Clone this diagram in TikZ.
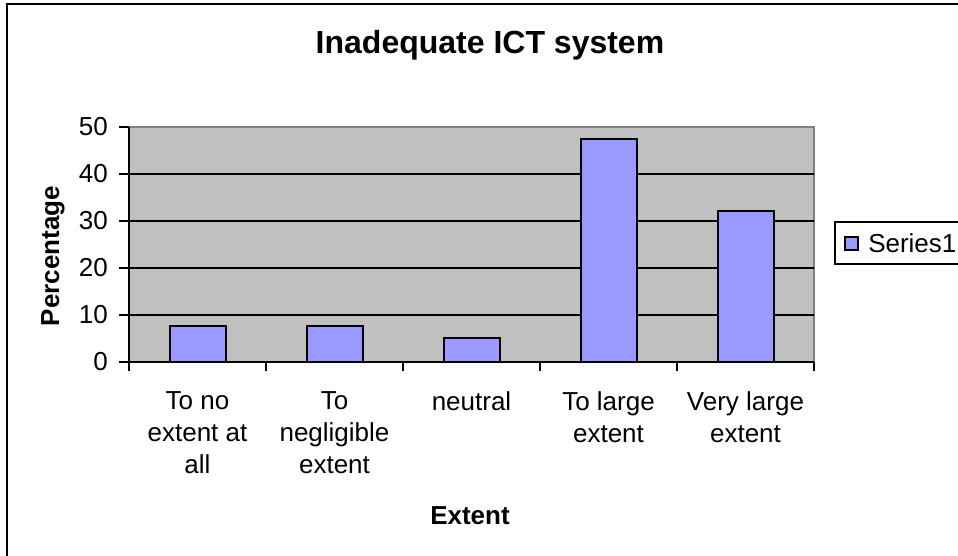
\documentclass[tikz,border=0pt]{standalone}
\usepackage{fontspec}
\setmainfont{Liberation Sans}
\usetikzlibrary{positioning}
\definecolor{barBlue}{HTML}{9999FF}
\definecolor{plotGray}{HTML}{C0C0C0}
\definecolor{edgeGray}{HTML}{808080}

\begin{document}
\begin{tikzpicture}[x=0.75pt,y=-0.75pt,
  axislab/.style={font=\fontsize{19.5}{24}\selectfont,inner sep=0pt},
  axistitle/.style={font=\fontsize{19.5}{24}\selectfont\bfseries,inner sep=0pt},
  gridline/.style={line width=1.5pt},
  bar/.style={fill=barBlue,draw=black,line width=1.5pt}]
  \clip (0,0) rectangle (958,556);
  % chart frame
  \draw[line width=1.5pt] (7,4) rectangle (990,590);
  \node[font=\fontsize{24}{28}\selectfont\bfseries,inner sep=0pt] (title) at (490,45) {Inadequate ICT system};

  % plot area
  \fill[plotGray] (129,127) rectangle (814,362);
  \draw[edgeGray,line width=1.5pt] (129,127) -- (814,127) -- (814,362);
  \foreach \v in {1,2,3,4}{
    \draw[gridline] (129,362-47*\v) -- (814,362-47*\v);
  }

  % bars
  \foreach \i/\v in {0/7.7,1/7.7,2/5.1,3/47.4,4/32.1}{
    \pgfmathsetmacro{\cx}{197.5+137*\i}
    \pgfmathsetmacro{\top}{362-4.7*\v}
    \draw[bar] (\cx-28,362) rectangle (\cx+28,\top);
  }

  % axes and ticks
  \draw[line width=1.5pt] (129,127) -- (129,362) -- (814,362);
  \foreach \v in {0,1,2,3,4,5}{
    \draw[line width=1.5pt] (119,362-47*\v) -- (129,362-47*\v);
    \pgfmathtruncatemacro{\lab}{10*\v}
    \node[axislab,anchor=east] (ytick\v) at (108,362-47*\v) {\lab};
  }
  \foreach \i in {0,1,2,3,4,5}{
    \draw[line width=1pt] (129+137*\i,362) -- (129+137*\i,371);
  }
  \foreach \i/\lab in {0/{To no\\extent at\\all},1/{To\\negligible\\extent},2/neutral,
      3/{To large\\extent},4/{Very large\\extent}}{
    \node[axislab,align=center,anchor=north] (cat\i) at (197.5+137*\i,391) {\lab};
  }

  % axis titles
  \node[axistitle] (xlab) at (470,516) {Extent};
  \node[axistitle,rotate=90] (ylab) at (53,256) {Percentage};

  % legend
  \draw[line width=1.5pt] (835,222) rectangle (990,264);
  \draw[fill=barBlue,line width=1pt] (845,237) rectangle (858,250);
  \node[axislab,anchor=west] (leg) at (868,243) {Series1};
\end{tikzpicture}
\end{document}
